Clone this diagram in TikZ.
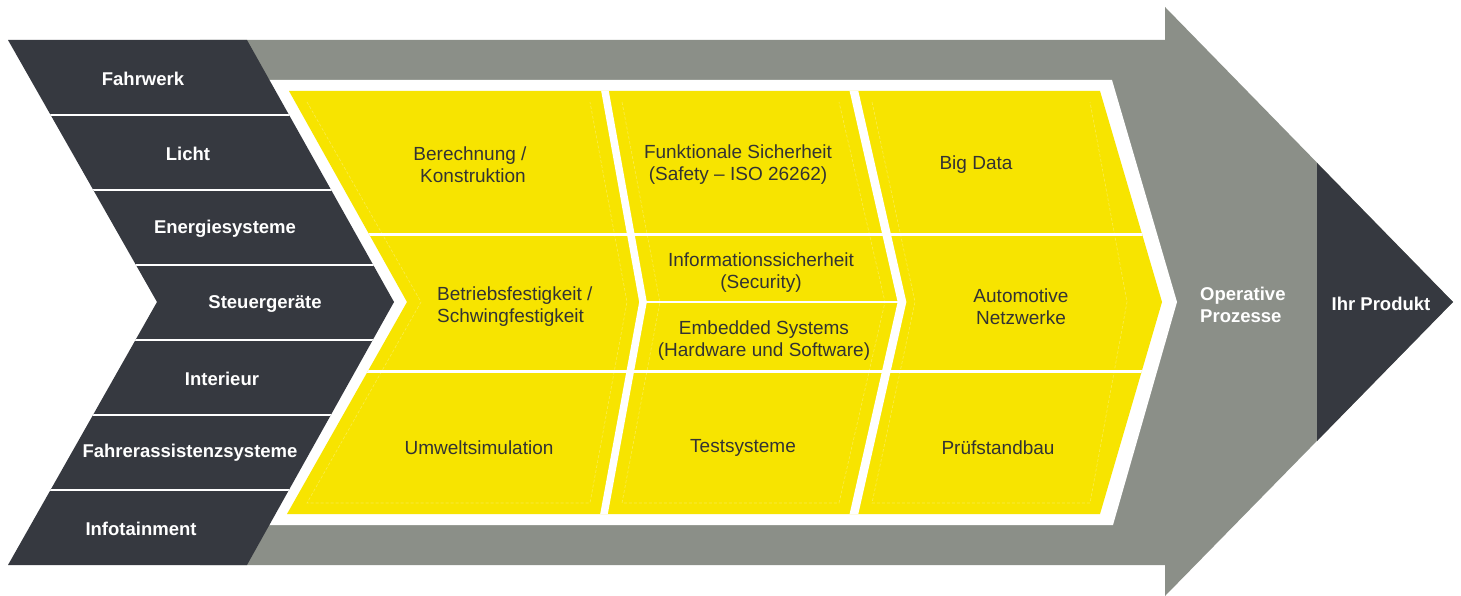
\documentclass[tikz,border=0pt]{standalone}
\usepackage{fontspec}
\setmainfont{Liberation Sans}
\definecolor{dk}{HTML}{363940}
\definecolor{gr}{HTML}{8B8F88}
\definecolor{ye}{HTML}{F7E400}
\definecolor{tx}{HTML}{333333}
\begin{document}
\begin{tikzpicture}[x=1pt,y=-1pt,
  ylab/.style={text=tx, font=\fontsize{19}{22}\selectfont, align=center, inner sep=0pt, yshift=-3pt},
  dlab/.style={text=white, font=\fontsize{18.5}{22}\selectfont\bfseries, inner sep=0pt, yshift=-1pt},
  sepline/.style={white, line width=#1, line join=miter},
  faint/.style={white, opacity=0.3, line width=0.6pt, densely dashed}]
\useasboundingbox (0,0) rectangle (1461,596);
% gray arrow
\fill[gr] (200,40) -- (1165,40) -- (1165,7) -- (1453,302) -- (1165,596) -- (1165,565) -- (200,565) -- cycle;
\fill[dk] (1317,163) -- (1453,302) -- (1317,441) -- cycle;
% white chevron
\fill[white] (250,80) -- (1112,80) -- (1177,302) -- (1113,525) -- (250,525) -- (394,302) -- cycle;
% dark chevron with stripes
\fill[dk] (8,40) -- (247,40) -- (394,302) -- (247,565) -- (8,565) -- (157,302) -- cycle;
\begin{scope}
  \clip (8,40) -- (247,40) -- (394,302) -- (247,565) -- (8,565) -- (157,302) -- cycle;
  \foreach \yy in {115,190,265,340,415,490} \draw[white, line width=2.5pt] (0,\yy) -- (420,\yy);
\end{scope}
% yellow field
\fill[ye] (289,91) -- (1100,91) -- (1162,302) -- (1100,514) -- (287,514) -- (407,302) -- cycle;
\begin{scope}
  \clip (289,91) -- (1100,91) -- (1162,302) -- (1100,514) -- (287,514) -- (407,302) -- cycle;
  % faint inset outlines
  \draw[faint] (307,102) -- (421,302) -- (307,503) -- (590,503) -- (627,302) -- (590,102);
  \draw[faint] (622,102) -- (660,302) -- (622,503) -- (839,503) -- (885,302) -- (839,102);
  \draw[faint] (872,102) -- (915,302) -- (872,503) -- (1090,503) -- (1127,302) -- (1090,102);
  % row lines
  \draw[white, line width=3pt] (280,234) -- (1170,234);
  \draw[white, line width=3pt] (280,371) -- (1170,371);
  \draw[white, line width=2.5pt] (643,302) -- (902,302);
  % column separators
  \draw[sepline=7.5pt] (603.9,85) -- (643,302) -- (602.9,520);
  \draw[sepline=8.5pt] (852.6,85) -- (902,302) -- (852.6,520);
\end{scope}
% dark labels
\node[dlab] (fw) at (143,78) {Fahrwerk};
\node[dlab] (li) at (188,153) {Licht};
\node[dlab] (en) at (225,228) {Energiesysteme};
\node[dlab] (st) at (265,303) {Steuergeräte};
\node[dlab] (in) at (222,378) {Interieur};
\node[dlab] (fa) at (190,452) {Fahrerassistenzsysteme};
\node[dlab] (it) at (141,528) {Infotainment};
% yellow labels
\node[ylab] (be) at (470,162) {Berechnung /\\\hspace*{6pt}Konstruktion};
\node[ylab] (fs) at (738,162) {Funktionale Sicherheit\\(Safety – ISO 26262)};
\node[ylab] (bd) at (976,162) {Big Data};
\node[ylab, anchor=west, align=left] (bf) at (437,304) {Betriebsfestigkeit /\\Schwingfestigkeit};
\node[ylab] (is) at (761,270) {Informationssicherheit\\(Security)};
\node[ylab] (es) at (764,338) {Embedded Systems\\(Hardware und Software)};
\node[ylab] (an) at (1021,304) {Automotive\\Netzwerke};
\node[ylab] (um) at (479,445) {Umweltsimulation};
\node[ylab] (ts) at (743,445) {Testsysteme};
\node[ylab] (pb) at (998,445) {Prüfstandbau};
% right labels
\node[dlab, anchor=west, align=left] (op) at (1200,304) {Operative\\Prozesse};
\node[dlab] (ip) at (1381,303) {Ihr Produkt};
\end{tikzpicture}
\end{document}
